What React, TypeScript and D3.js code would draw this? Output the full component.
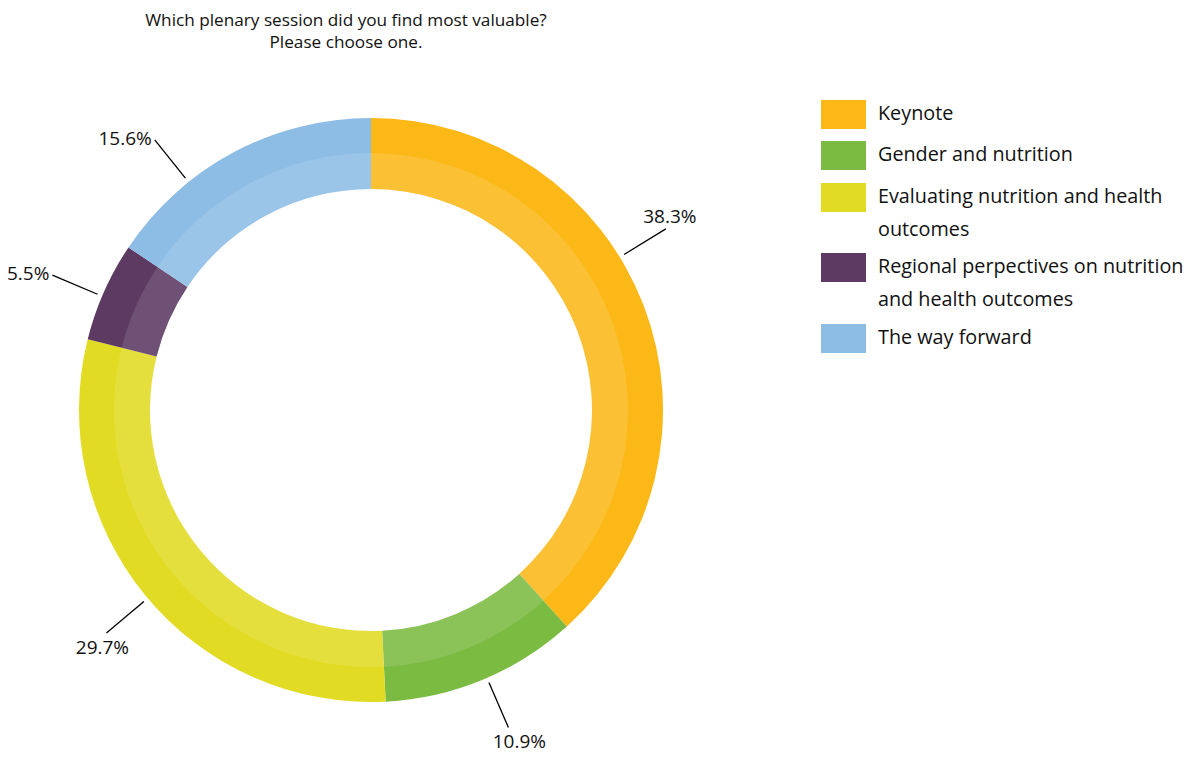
import React from "react";
import * as d3 from "d3";

const categories = [
  "Keynote",
  "Gender and nutrition",
  "Evaluating nutrition and health outcomes",
  "Regional perpectives on nutrition and health outcomes",
  "The way forward",
];
const values = [38.3, 10.9, 29.7, 5.5, 15.6];
const colors = ["#FBB817", "#7CBB42", "#E2DB23", "#5C3A62", "#8DBDE5"];
const legendLines = [
  ["Keynote"],
  ["Gender and nutrition"],
  ["Evaluating nutrition and health", "outcomes"],
  ["Regional perpectives on nutrition", "and health outcomes"],
  ["The way forward"],
];
const titleLines = ["Which plenary session did you find most valuable?", "Please choose one."];
// label leader tweaks (degrees) and placement relative to leader end
const labelShift = [-10.5, -0.9, -0.7, -1, -10.6];
const labelPlace = ["above", "below", "below", "left", "left"];

const W = 1195, H = 758;
const FONT = "'Open Sans', Lato, sans-serif";

export default function App() {
  const cx = 371, cy = 410;
  const rOuter = 292, rMid = 257, rInner = 221;
  const pie = d3.pie<number>().sort(null).value((d) => d);
  const arcs = pie(values);
  const outerArc = d3.arc<d3.PieArcDatum<number>>().innerRadius(rInner).outerRadius(rOuter);
  const innerArc = d3.arc<d3.PieArcDatum<number>>().innerRadius(rInner).outerRadius(rMid);

  return (
    <svg width={W} height={H} style={{ position: "absolute", left: 0, top: 0, background: "#fff" }}>
      <text x={346} y={20} dy="0.35em" textAnchor="middle" fontFamily={FONT} fontSize={17.2} fill="#111">
        {titleLines[0]}
        <tspan x={346} dy={21.5}>{titleLines[1]}</tspan>
      </text>
      <g transform={`translate(${cx},${cy})`}>
        {arcs.map((a, i) => (
          <g key={i}>
            <path d={outerArc(a) || ""} fill={colors[i]} />
            <path d={innerArc(a) || ""} fill="#fff" fillOpacity={0.12} />
          </g>
        ))}
        {arcs.map((a, i) => {
          const ang = (a.startAngle + a.endAngle) / 2 + (labelShift[i] * Math.PI) / 180;
          const r1 = 297, r2 = 346;
          const x1 = r1 * Math.sin(ang), y1 = -r1 * Math.cos(ang);
          const x2 = r2 * Math.sin(ang), y2 = -r2 * Math.cos(ang);
          let tx = x2, ty = y2, anchor = "middle";
          if (labelPlace[i] === "above") { tx = x2 + 4; ty = y2 - 13; }
          else if (labelPlace[i] === "below") { tx = x2 + (i === 1 ? 11 : -4); ty = y2 + 14; }
          else { tx = x2 - 3; ty = y2 - 2; anchor = "end"; }
          return (
            <g key={"l" + i}>
              <line x1={x1} y1={y1} x2={x2} y2={y2} stroke="#000" strokeWidth={1.3} />
              <text x={tx} y={ty} dy="0.35em" textAnchor={anchor} fontFamily={FONT} fontSize={19} fill="#111">
                {values[i].toFixed(1)}%
              </text>
            </g>
          );
        })}
      </g>
      <g>
        {legendLines.map((lines, i) => {
          const ys = [100, 141, 183, 253, 324];
          const y = ys[i];
          return (
            <g key={"lg" + i}>
              <rect x={821} y={y} width={45} height={29} fill={colors[i]} />
              {lines.map((t, j) => (
                <text key={j} x={878} y={y + 13.5 + j * 33} dy="0.35em" fontFamily={FONT} fontSize={19.8} fill="#111">
                  {t}
                </text>
              ))}
            </g>
          );
        })}
      </g>
    </svg>
  );
}
